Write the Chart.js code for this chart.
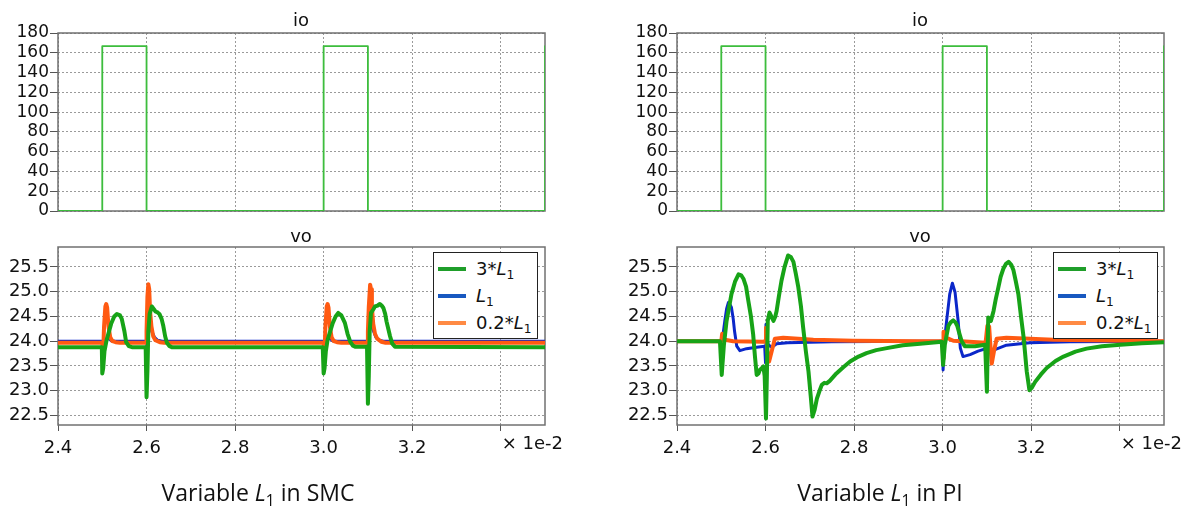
<!DOCTYPE html>
<html><head><meta charset="utf-8">
<script src="https://cdn.jsdelivr.net/npm/chart.js@4.4.1/dist/chart.umd.min.js"></script>
<style>
body{margin:0;background:#fff;width:1192px;height:511px;overflow:hidden;position:relative;font-family:"DejaVu Sans",sans-serif;}
canvas{position:absolute;}
.ttl{position:absolute;font-size:18px;color:#111;transform:translateX(-50%);white-space:nowrap;line-height:1;}
.cap{position:absolute;font-family:"Open Sans",sans-serif;font-size:23px;color:#111;transform:translateX(-50%);white-space:nowrap;line-height:1;}
.cap sub,.lg sub{font-size:0.68em;vertical-align:-0.3em;line-height:0;}
.leg{position:absolute;width:105px;height:87px;border:1.5px solid #222;background:#fff;box-sizing:border-box;}
.lr{position:absolute;left:4px;height:22px;width:100px;}
.sw{position:absolute;left:0;top:9px;width:28px;height:4px;}
.lg{position:absolute;left:38px;top:0;font-size:18px;line-height:22px;color:#111;white-space:nowrap;}
</style></head>
<body>
<canvas id="c1" width="573" height="225" style="left:0;top:0"></canvas>
<canvas id="c2" width="573" height="250" style="left:0;top:230px"></canvas>
<canvas id="c3" width="573" height="225" style="left:619px;top:0"></canvas>
<canvas id="c4" width="573" height="250" style="left:619px;top:230px"></canvas>

<div class="ttl" style="left:301px;top:11px">io</div>
<div class="ttl" style="left:301px;top:227px">vo</div>
<div class="ttl" style="left:920px;top:11px">io</div>
<div class="ttl" style="left:920px;top:227px">vo</div>

<div class="leg" style="left:433px;top:252px">
 <div class="lr" style="top:5px"><div class="sw" style="background:#1f9e2a"></div><div class="lg">3*<i>L</i><sub>1</sub></div></div>
 <div class="lr" style="top:32px"><div class="sw" style="background:#1858c0"></div><div class="lg"><i>L</i><sub>1</sub></div></div>
 <div class="lr" style="top:59px"><div class="sw" style="background:#ff8a44"></div><div class="lg">0.2*<i>L</i><sub>1</sub></div></div>
</div>
<div class="leg" style="left:1053px;top:252px">
 <div class="lr" style="top:5px"><div class="sw" style="background:#1f9e2a"></div><div class="lg">3*<i>L</i><sub>1</sub></div></div>
 <div class="lr" style="top:32px"><div class="sw" style="background:#1858c0"></div><div class="lg"><i>L</i><sub>1</sub></div></div>
 <div class="lr" style="top:59px"><div class="sw" style="background:#ff8a44"></div><div class="lg">0.2*<i>L</i><sub>1</sub></div></div>
</div>

<div class="cap" style="left:258px;top:481px">Variable <i>L</i><sub>1</sub> in SMC</div>
<div class="cap" style="left:880px;top:481px">Variable <i>L</i><sub>1</sub> in PI</div>

<script>
// ---- tick labels / axes ----
const timeTicks = [2.4, 2.6, 2.8, 3.0, 3.2, 3.4];
const ioTicks = [0, 20, 40, 60, 80, 100, 120, 140, 160, 180];
const voTicks = [22.5, 23.0, 23.5, 24.0, 24.5, 25.0, 25.5];
const expLabel = "× 1e-2";

// ---- io (load current step), same for both controllers ----
const ioWave = [[2.4,0],[2.5,0],[2.5,166.7],[2.6,166.7],[2.6,0],[3.0,0],[3.0,166.7],[3.1,166.7],[3.1,0],[3.5,0],[3.5,166.7]];

// ---- vo, SMC ----
const smcL3 = [[2.4,23.88],[2.499,23.88],[2.5,23.35],[2.502,23.45],[2.505,23.8],[2.51,24.03],[2.52,24.35],[2.527,24.5],[2.533,24.55],[2.54,24.52],[2.544,24.45],[2.55,24.2],[2.554,23.98],[2.56,23.9],[2.567,23.88],[2.598,23.88],[2.6,22.87],[2.602,23.4],[2.604,24.2],[2.607,24.55],[2.612,24.7],[2.617,24.64],[2.62,24.6],[2.625,24.58],[2.629,24.55],[2.634,24.45],[2.638,24.3],[2.642,24.1],[2.646,23.97],[2.652,23.9],[2.657,23.88],[2.998,23.88],[3.0,23.35],[3.002,23.45],[3.005,23.8],[3.009,24.03],[3.02,24.35],[3.027,24.5],[3.033,24.57],[3.04,24.52],[3.048,24.37],[3.054,24.15],[3.06,23.99],[3.066,23.91],[3.071,23.89],[3.098,23.89],[3.1,22.74],[3.102,23.3],[3.104,24.2],[3.107,24.57],[3.112,24.64],[3.116,24.7],[3.122,24.72],[3.127,24.75],[3.131,24.72],[3.135,24.67],[3.139,24.55],[3.142,24.4],[3.146,24.25],[3.15,24.1],[3.155,23.95],[3.161,23.89],[3.5,23.88]];
const smcL1 = [[2.4,24.0],[2.5,24.0],[2.502,23.8],[2.505,23.9],[2.51,24.05],[2.515,24.05],[2.52,24.01],[2.53,24.0],[2.6,24.0],[2.601,23.85],[2.603,24.3],[2.605,24.6],[2.608,24.35],[2.612,24.2],[2.618,24.08],[2.625,24.02],[2.635,24.0],[3.0,24.0],[3.002,23.8],[3.005,23.9],[3.01,24.05],[3.015,24.05],[3.02,24.01],[3.03,24.0],[3.1,24.0],[3.101,23.85],[3.103,24.3],[3.105,24.6],[3.108,24.35],[3.112,24.22],[3.118,24.08],[3.125,24.02],[3.135,24.0],[3.5,24.0]];
const smcL02 = [[2.4,23.97],[2.5,23.97],[2.502,23.75],[2.504,24.3],[2.507,24.7],[2.509,24.75],[2.511,24.68],[2.514,24.3],[2.518,24.08],[2.523,24.0],[2.53,23.98],[2.54,23.97],[2.599,23.97],[2.6,24.2],[2.602,24.9],[2.604,25.15],[2.606,25.05],[2.608,24.6],[2.611,24.3],[2.615,24.1],[2.62,24.02],[2.63,23.98],[2.64,23.97],[3.0,23.97],[3.002,23.75],[3.004,24.3],[3.007,24.7],[3.009,24.75],[3.011,24.68],[3.014,24.3],[3.018,24.08],[3.023,24.0],[3.03,23.98],[3.04,23.97],[3.099,23.97],[3.1,24.2],[3.102,24.7],[3.105,25.14],[3.107,25.05],[3.109,24.68],[3.112,24.35],[3.116,24.15],[3.121,24.05],[3.13,23.99],[3.14,23.97],[3.5,23.97]];

// ---- vo, PI ----
const piL3 = [[2.4,24.0],[2.497,24.0],[2.501,23.32],[2.506,23.93],[2.512,24.41],[2.523,24.95],[2.531,25.2],[2.539,25.35],[2.545,25.33],[2.55,25.26],[2.556,25.1],[2.561,24.82],[2.567,24.5],[2.572,24.14],[2.576,23.7],[2.58,23.32],[2.584,23.35],[2.587,23.42],[2.592,23.46],[2.595,23.49],[2.598,23.3],[2.601,22.44],[2.603,23.3],[2.605,24.41],[2.609,24.58],[2.613,24.5],[2.618,24.41],[2.622,24.5],[2.625,24.61],[2.63,24.9],[2.636,25.22],[2.643,25.5],[2.651,25.73],[2.657,25.7],[2.663,25.6],[2.668,25.38],[2.674,25.09],[2.68,24.7],[2.685,24.27],[2.691,23.8],[2.697,23.39],[2.702,22.9],[2.706,22.48],[2.711,22.62],[2.716,22.84],[2.722,23.0],[2.727,23.12],[2.733,23.16],[2.738,23.15],[2.745,23.2],[2.76,23.35],[2.775,23.47],[2.791,23.59],[2.81,23.69],[2.828,23.76],[2.85,23.82],[2.874,23.86],[2.91,23.92],[2.949,23.95],[2.998,23.99],[3.001,23.52],[3.005,23.93],[3.013,24.31],[3.018,24.38],[3.024,24.42],[3.029,24.38],[3.033,24.31],[3.038,24.15],[3.043,24.0],[3.05,23.9],[3.073,23.9],[3.096,23.93],[3.1,22.98],[3.103,24.48],[3.109,24.41],[3.115,24.61],[3.12,24.85],[3.126,25.09],[3.131,25.3],[3.137,25.46],[3.143,25.56],[3.149,25.6],[3.155,25.54],[3.16,25.43],[3.165,25.22],[3.171,24.95],[3.177,24.5],[3.183,24.07],[3.19,23.39],[3.196,23.01],[3.202,23.07],[3.209,23.18],[3.222,23.33],[3.235,23.46],[3.255,23.6],[3.273,23.69],[3.3,23.79],[3.325,23.85],[3.36,23.9],[3.401,23.93],[3.45,23.96],[3.5,23.98]];
const piL1 = [[2.4,24.0],[2.498,24.0],[2.503,24.07],[2.508,24.41],[2.512,24.65],[2.516,24.78],[2.519,24.75],[2.523,24.68],[2.527,24.45],[2.53,24.2],[2.535,23.9],[2.542,23.81],[2.557,23.85],[2.58,23.88],[2.598,23.9],[2.6,23.56],[2.601,24.34],[2.603,24.1],[2.606,23.93],[2.614,23.88],[2.625,23.95],[2.65,23.97],[2.75,23.99],[2.95,24.0],[3.0,24.0],[3.001,23.42],[3.004,24.0],[3.009,24.41],[3.016,24.95],[3.022,25.17],[3.028,24.99],[3.035,24.41],[3.04,23.86],[3.046,23.69],[3.062,23.73],[3.08,23.8],[3.098,23.85],[3.101,24.25],[3.105,23.93],[3.11,23.82],[3.118,23.83],[3.144,23.92],[3.197,23.97],[3.287,23.99],[3.5,24.0]];
const piL02 = [[2.4,24.0],[2.5,24.0],[2.502,24.15],[2.508,24.03],[2.527,24.0],[2.595,23.99],[2.599,24.0],[2.601,24.27],[2.604,23.8],[2.608,23.59],[2.614,23.8],[2.621,24.05],[2.64,24.07],[2.708,24.03],[2.798,24.01],[2.95,24.0],[3.0,24.0],[3.001,23.65],[3.002,24.19],[3.009,24.07],[3.024,24.01],[3.097,23.97],[3.101,24.31],[3.105,24.3],[3.108,23.9],[3.111,23.55],[3.116,23.8],[3.122,24.05],[3.144,24.07],[3.25,24.03],[3.5,24.0]];

// ---- styles ----
const C_GREEN = '#17a317', C_BLUE = '#0b27c9', C_ORANGE = '#ff5a12', C_IO = '#3dbd3d';
const pts = a => a.map(p => ({x: p[0], y: p[1]}));

const framePlugin = {
  id: 'frame',
  beforeDatasetsDraw(chart) {
    const a = chart.chartArea, c = chart.ctx;
    c.save(); c.strokeStyle = '#707070'; c.lineWidth = 1.5;
    c.strokeRect(a.left, a.top, a.right - a.left, a.bottom - a.top);
    c.restore();
  }
};
const expPlugin = {
  id: 'exp',
  afterDraw(chart) {
    const xs = chart.scales.x, c = chart.ctx;
    c.save(); c.font = '18px "DejaVu Sans"'; c.fillStyle = '#111';
    c.textAlign = 'left'; c.textBaseline = 'middle';
    c.fillText(expLabel, xs.getPixelForValue(timeTicks[timeTicks.length - 1]) + 1, chart.chartArea.bottom + 19);
    c.restore();
  }
};

function makeChart(id, datasets, bottom) {
  const yMin = bottom ? 22.31 : 0, yMax = bottom ? 25.9 : 180;
  const yT = bottom ? voTicks : ioTicks;
  new Chart(document.getElementById(id), {
    type: 'scatter',
    data: { datasets },
    options: {
      responsive: false, animation: false, devicePixelRatio: 1,
      layout: { padding: bottom ? {top: 17, right: 28, bottom: 20, left: 0} : {top: 33, right: 28, bottom: 14, left: 0} },
      plugins: { legend: { display: false }, tooltip: { enabled: false } },
      elements: { point: { radius: 0 }, line: { tension: 0, borderJoinStyle: 'round', borderCapStyle: 'round' } },
      scales: {
        x: {
          type: 'linear', min: 2.4, max: 3.5,
          afterBuildTicks: s => { s.ticks = timeTicks.map(v => ({value: v})); },
          afterFit: s => { s.height = bottom ? 35 : 0; },
          border: { display: false, dash: [2, 2] },
          grid: { color: '#9a9a9a', lineWidth: 1, drawTicks: bottom, tickLength: 6, tickColor: '#555', tickBorderDash: [] },
          ticks: {
            display: bottom, padding: 7, color: '#111', font: { family: 'DejaVu Sans', size: 18 }, maxRotation: 0, autoSkip: false,
            callback: (v, i) => i === timeTicks.length - 1 ? '' : Number(v).toFixed(1)
          }
        },
        y: {
          type: 'linear', min: yMin, max: yMax,
          afterBuildTicks: s => { s.ticks = yT.map(v => ({value: v})); },
          afterFit: s => { s.width = 58; },
          border: { display: false, dash: [2, 2] },
          grid: { color: '#9a9a9a', lineWidth: 1, drawTicks: true, tickLength: 8, tickColor: '#555', tickBorderDash: [] },
          ticks: {
            padding: 1, color: '#111', font: { family: 'DejaVu Sans', size: bottom ? 18 : 17 }, autoSkip: false,
            callback: v => bottom ? Number(v).toFixed(1) : String(v)
          }
        }
      }
    },
    plugins: bottom ? [framePlugin, expPlugin] : [framePlugin]
  });
}

function ioSet() {
  return [{ data: pts(ioWave), showLine: true, borderColor: C_IO, borderWidth: 1.8 }];
}
function voSet(g, b, o) {
  return [
    { label: '3*L1', data: pts(g), showLine: true, borderColor: C_GREEN, borderWidth: 4, order: 0 },
    { label: 'L1', data: pts(b), showLine: true, borderColor: C_BLUE, borderWidth: 3, order: 2 },
    { label: '0.2*L1', data: pts(o), showLine: true, borderColor: C_ORANGE, borderWidth: 4, order: 1 }
  ];
}

makeChart('c1', ioSet(), false);
makeChart('c2', voSet(smcL3, smcL1, smcL02), true);
makeChart('c3', ioSet(), false);
makeChart('c4', voSet(piL3, piL1, piL02), true);
</script>
</body></html>
